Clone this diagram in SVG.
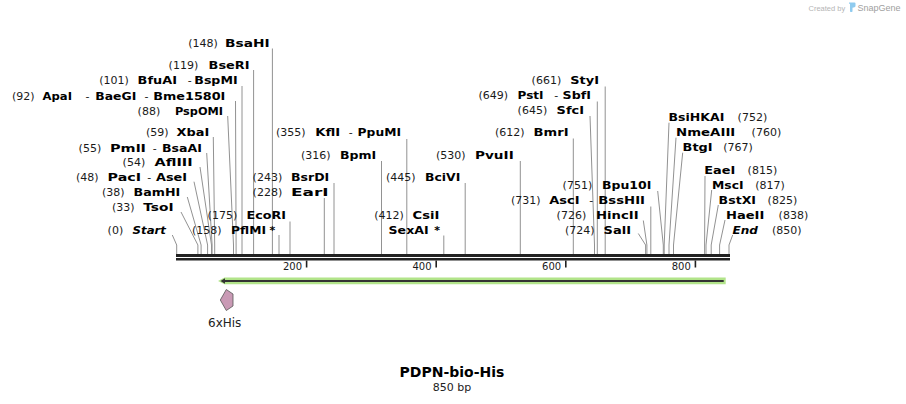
<svg xmlns="http://www.w3.org/2000/svg" width="906" height="404" viewBox="0 0 906 404">
<style>
text{font-family:"DejaVu Sans","Liberation Sans",sans-serif;font-size:11px;fill:#1a1a1a}
.b{font-weight:bold;fill:#000}
.bi{font-weight:bold;font-style:italic;fill:#000}
.cl{stroke:#929292;stroke-width:1;fill:none}
.tick{stroke:#222;stroke-width:1.6}
.tl{font-size:10px;text-anchor:end}
</style>
<rect width="906" height="404" fill="#fff"/>
<g id="credit">
<text x="808.5" y="10.5" style="font-family:'Liberation Sans',sans-serif;font-size:7.5px;fill:#b5b5b5">Created by</text>
<path d="M849,2.5 h5.5 q1,0 1,1 v2.5 q0,1 -1,1.2 l-2,0.6 v3.5 q0,0.8 -0.8,0.8 h-0.9 q-0.8,0 -0.8,-0.8 v-7.5 h-1 z" fill="#8fcbef"/>
<text x="857.5" y="10.5" style="font-family:'Liberation Sans',sans-serif;font-size:9px;fill:#a0a0a0">SnapGene</text>
</g>
<g id="connectors">
<polyline class="cl" points="172.3,235 176.7,245 176.7,254"/>
<polyline class="cl" points="181,212 197.9,245 197.9,254"/>
<polyline class="cl" points="187.3,197 201.1,245 201.1,254"/>
<polyline class="cl" points="194,181.7 207.6,245 207.6,254"/>
<polyline class="cl" points="200,167 211.5,245 211.5,254"/>
<polyline class="cl" points="206.7,153 212.1,245 212.1,254"/>
<polyline class="cl" points="213.3,137 214.7,245 214.7,254"/>
<polyline class="cl" points="227.7,116 233.5,245 233.5,254"/>
<polyline class="cl" points="235.5,101 236.1,245 236.1,254"/>
<polyline class="cl" points="242,86 242,254"/>
<polyline class="cl" points="253.6,70 253.6,254"/>
<polyline class="cl" points="272.4,48.5 272.4,254"/>
<polyline class="cl" points="279,235 279,254"/>
<polyline class="cl" points="290,221.5 290,254"/>
<polyline class="cl" points="324.3,198 324.3,254"/>
<polyline class="cl" points="334,183 334,254"/>
<polyline class="cl" points="381.5,161 381.5,254"/>
<polyline class="cl" points="406.8,139 406.8,254"/>
<polyline class="cl" points="443.8,235.5 443.8,254"/>
<polyline class="cl" points="465.2,183 465.2,254"/>
<polyline class="cl" points="520.3,161 520.3,254"/>
<polyline class="cl" points="573.3,138.5 573.3,254"/>
<polyline class="cl" points="590,116 594.5,245 594.5,254"/>
<polyline class="cl" points="597.3,101.5 597.3,254"/>
<polyline class="cl" points="605.2,86.5 605.2,254"/>
<polyline class="cl" points="638.3,233.5 645.6,245 645.6,254"/>
<polyline class="cl" points="643.3,220.5 646.9,245 646.9,254"/>
<polyline class="cl" points="650.8,206.5 650.8,254"/>
<polyline class="cl" points="657.7,191 663.3,245 663.3,254"/>
<polyline class="cl" points="669,122.7 664.2,245 664.2,254"/>
<polyline class="cl" points="676,137.7 669,245 669,254"/>
<polyline class="cl" points="682.7,152.7 673.5,245 673.5,254"/>
<polyline class="cl" points="705,176 704.6,245 704.6,254"/>
<polyline class="cl" points="711.7,190 706,245 706,254"/>
<polyline class="cl" points="718.3,205 711.2,245 711.2,254"/>
<polyline class="cl" points="725,220 719.6,245 719.6,254"/>
<polyline class="cl" points="732.7,235 729,245 729,254"/>
</g>
<g id="map">
<rect x="176" y="254" width="554" height="3" fill="#222"/>
<rect x="176" y="258" width="554" height="2.5" fill="#222"/>
<line class="tick" x1="306.6" y1="260.5" x2="306.6" y2="267.5"/>
<line class="tick" x1="436.2" y1="260.5" x2="436.2" y2="267.5"/>
<line class="tick" x1="565.8" y1="260.5" x2="565.8" y2="267.5"/>
<line class="tick" x1="695.4" y1="260.5" x2="695.4" y2="267.5"/>
<text class="tl" x="302" y="270">200</text>
<text class="tl" x="431.6" y="270">400</text>
<text class="tl" x="561.2" y="270">600</text>
<text class="tl" x="690.8" y="270">800</text>
</g>
<g id="primer">
<polygon points="218,281 224.5,277.5 725.7,277.5 725.7,284.3 224.5,284.3" fill="#b2e48a"/>
<line x1="224" y1="281" x2="723.7" y2="281" stroke="#333" stroke-width="2"/>
<polygon points="220.5,281 225,278.3 225,283.7" fill="#333"/>
</g>
<g id="feature-6xHis">
<polygon points="220.3,300 226.3,289.5 233,294 233,306 226.3,310.5" fill="#c99ab5" stroke="#555" stroke-width="0.8"/>
<text x="224.7" y="326.5" text-anchor="middle" style="font-size:12px;fill:#222">6xHis</text>
</g>
<g id="site-BsaHI"><text y="47"><tspan x="188.3">(148)</tspan><tspan class="b" x="225" textLength="44.6" lengthAdjust="spacingAndGlyphs">BsaHI</tspan></text></g>
<g id="site-BseRI"><text y="68.5"><tspan x="168.6">(119)</tspan><tspan class="b" x="208.6" textLength="41" lengthAdjust="spacingAndGlyphs">BseRI</tspan></text></g>
<g id="site-BfuAI"><text y="84"><tspan x="99.3">(101)</tspan><tspan class="b" x="137.6" textLength="39.4" lengthAdjust="spacingAndGlyphs">BfuAI</tspan><tspan x="187.8">-</tspan><tspan class="b" x="194.3" textLength="43.3" lengthAdjust="spacingAndGlyphs">BspMI</tspan></text></g>
<g id="site-ApaI"><text y="99.5"><tspan x="12">(92)</tspan><tspan class="b" x="42.6" textLength="29.4" lengthAdjust="spacingAndGlyphs">ApaI</tspan><tspan x="85.5">-</tspan><tspan class="b" x="95.3" textLength="41" lengthAdjust="spacingAndGlyphs">BaeGI</tspan><tspan x="144.5">-</tspan><tspan class="b" x="153.3" textLength="72" lengthAdjust="spacingAndGlyphs">Bme1580I</tspan></text></g>
<g id="site-PspOMI"><text y="114.5"><tspan x="137.6">(88)</tspan><tspan class="b" x="175" textLength="48" lengthAdjust="spacingAndGlyphs">PspOMI</tspan></text></g>
<g id="site-XbaI"><text y="135.5"><tspan x="146">(59)</tspan><tspan class="b" x="176.6" textLength="32.7" lengthAdjust="spacingAndGlyphs">XbaI</tspan></text></g>
<g id="site-PmlI"><text y="151.5"><tspan x="78.6">(55)</tspan><tspan class="b" x="110" textLength="36" lengthAdjust="spacingAndGlyphs">PmlI</tspan><tspan x="152.8">-</tspan><tspan class="b" x="162" textLength="40" lengthAdjust="spacingAndGlyphs">BsaAI</tspan></text></g>
<g id="site-AflIII"><text y="166"><tspan x="122.6">(54)</tspan><tspan class="b" x="154.6" textLength="38" lengthAdjust="spacingAndGlyphs">AflIII</tspan></text></g>
<g id="site-PacI"><text y="180.5"><tspan x="76">(48)</tspan><tspan class="b" x="107.6" textLength="33.4" lengthAdjust="spacingAndGlyphs">PacI</tspan><tspan x="147.2">-</tspan><tspan class="b" x="156" textLength="31" lengthAdjust="spacingAndGlyphs">AseI</tspan></text></g>
<g id="site-BamHI"><text y="195.5"><tspan x="102">(38)</tspan><tspan class="b" x="133.6" textLength="46.7" lengthAdjust="spacingAndGlyphs">BamHI</tspan></text></g>
<g id="site-TsoI"><text y="211"><tspan x="112">(33)</tspan><tspan class="b" x="143.3" textLength="30.3" lengthAdjust="spacingAndGlyphs">TsoI</tspan></text></g>
<g id="site-Start"><text y="233.5"><tspan x="107.6">(0)</tspan><tspan class="bi" x="132.6" textLength="33.4" lengthAdjust="spacingAndGlyphs">Start</tspan></text></g>
<g id="site-PflMI"><text y="233.5"><tspan x="192">(158)</tspan><tspan class="b" x="231" textLength="35" lengthAdjust="spacingAndGlyphs">PflMI</tspan><tspan class="b" x="269.5">*</tspan></text></g>
<g id="site-EcoRI"><text y="218.5"><tspan x="207.6">(175)</tspan><tspan class="b" x="246.6" textLength="39.4" lengthAdjust="spacingAndGlyphs">EcoRI</tspan></text></g>
<g id="site-BsrDI"><text y="180.5"><tspan x="252.6">(243)</tspan><tspan class="b" x="291" textLength="38.3" lengthAdjust="spacingAndGlyphs">BsrDI</tspan></text></g>
<g id="site-EarI"><text y="195.5"><tspan x="252.6">(228)</tspan><tspan class="b" x="291" textLength="37.6" lengthAdjust="spacingAndGlyphs">EarI</tspan></text></g>
<g id="site-BpmI"><text y="159"><tspan x="301">(316)</tspan><tspan class="b" x="340" textLength="36.3" lengthAdjust="spacingAndGlyphs">BpmI</tspan></text></g>
<g id="site-KflI"><text y="136"><tspan x="276">(355)</tspan><tspan class="b" x="315.3" textLength="25" lengthAdjust="spacingAndGlyphs">KflI</tspan><tspan x="348.8">-</tspan><tspan class="b" x="357.6" textLength="43.4" lengthAdjust="spacingAndGlyphs">PpuMI</tspan></text></g>
<g id="site-CsiI"><text y="218.5"><tspan x="374.3">(412)</tspan><tspan class="b" x="412.6" textLength="26.7" lengthAdjust="spacingAndGlyphs">CsiI</tspan></text></g>
<g id="site-SexAI"><text y="233.5"><tspan class="b" x="388.6" textLength="40" lengthAdjust="spacingAndGlyphs">SexAI</tspan><tspan class="b" x="434.3">*</tspan></text></g>
<g id="site-BciVI"><text y="180.5"><tspan x="386">(445)</tspan><tspan class="b" x="425" textLength="35.3" lengthAdjust="spacingAndGlyphs">BciVI</tspan></text></g>
<g id="site-PvuII"><text y="159"><tspan x="436">(530)</tspan><tspan class="b" x="475" textLength="38.7" lengthAdjust="spacingAndGlyphs">PvuII</tspan></text></g>
<g id="site-BmrI"><text y="136"><tspan x="495">(612)</tspan><tspan class="b" x="533.6" textLength="35" lengthAdjust="spacingAndGlyphs">BmrI</tspan></text></g>
<g id="site-SfcI"><text y="114"><tspan x="517.6">(645)</tspan><tspan class="b" x="556.6" textLength="27.4" lengthAdjust="spacingAndGlyphs">SfcI</tspan></text></g>
<g id="site-PstI"><text y="99"><tspan x="478.5">(649)</tspan><tspan class="b" x="517.6" textLength="26" lengthAdjust="spacingAndGlyphs">PstI</tspan><tspan x="554.3">-</tspan><tspan class="b" x="562.6" textLength="28.4" lengthAdjust="spacingAndGlyphs">SbfI</tspan></text></g>
<g id="site-StyI"><text y="84"><tspan x="531.6">(661)</tspan><tspan class="b" x="570.3" textLength="28.7" lengthAdjust="spacingAndGlyphs">StyI</tspan></text></g>
<g id="site-Bpu10I"><text y="189"><tspan x="562.6">(751)</tspan><tspan class="b" x="602" textLength="49.3" lengthAdjust="spacingAndGlyphs">Bpu10I</tspan></text></g>
<g id="site-AscI"><text y="204"><tspan x="511">(731)</tspan><tspan class="b" x="549.3" textLength="30.3" lengthAdjust="spacingAndGlyphs">AscI</tspan><tspan x="589.3">-</tspan><tspan class="b" x="598.3" textLength="46.7" lengthAdjust="spacingAndGlyphs">BssHII</tspan></text></g>
<g id="site-HincII"><text y="219"><tspan x="556.6">(726)</tspan><tspan class="b" x="596" textLength="42.6" lengthAdjust="spacingAndGlyphs">HincII</tspan></text></g>
<g id="site-SalI"><text y="234"><tspan x="565">(724)</tspan><tspan class="b" x="603.6" textLength="27.4" lengthAdjust="spacingAndGlyphs">SalI</tspan></text></g>
<g id="site-BsiHKAI"><text y="120.5"><tspan class="b" x="668.6" textLength="55.7" lengthAdjust="spacingAndGlyphs">BsiHKAI</tspan><tspan x="737.6">(752)</tspan></text></g>
<g id="site-NmeAIII"><text y="135.5"><tspan class="b" x="676" textLength="59.3" lengthAdjust="spacingAndGlyphs">NmeAIII</tspan><tspan x="751.6">(760)</tspan></text></g>
<g id="site-BtgI"><text y="150.5"><tspan class="b" x="682.6" textLength="30" lengthAdjust="spacingAndGlyphs">BtgI</tspan><tspan x="723.3">(767)</tspan></text></g>
<g id="site-EaeI"><text y="173.5"><tspan class="b" x="704.3" textLength="31" lengthAdjust="spacingAndGlyphs">EaeI</tspan><tspan x="747.6">(815)</tspan></text></g>
<g id="site-MscI"><text y="188.5"><tspan class="b" x="712" textLength="31.6" lengthAdjust="spacingAndGlyphs">MscI</tspan><tspan x="755.3">(817)</tspan></text></g>
<g id="site-BstXI"><text y="203.5"><tspan class="b" x="718.6" textLength="37.4" lengthAdjust="spacingAndGlyphs">BstXI</tspan><tspan x="767.6">(825)</tspan></text></g>
<g id="site-HaeII"><text y="218.5"><tspan class="b" x="726" textLength="38.3" lengthAdjust="spacingAndGlyphs">HaeII</tspan><tspan x="778.6">(838)</tspan></text></g>
<g id="site-End"><text y="233.5"><tspan class="bi" x="732.6" textLength="25.4" lengthAdjust="spacingAndGlyphs">End</tspan><tspan x="772">(850)</tspan></text></g>
<g id="title">
<text x="452" y="377" text-anchor="middle" style="font-size:14px;font-weight:bold;fill:#000">PDPN-bio-His</text>
<text x="452" y="390.5" text-anchor="middle" style="font-size:11px;fill:#222">850 bp</text>
</g>
</svg>
